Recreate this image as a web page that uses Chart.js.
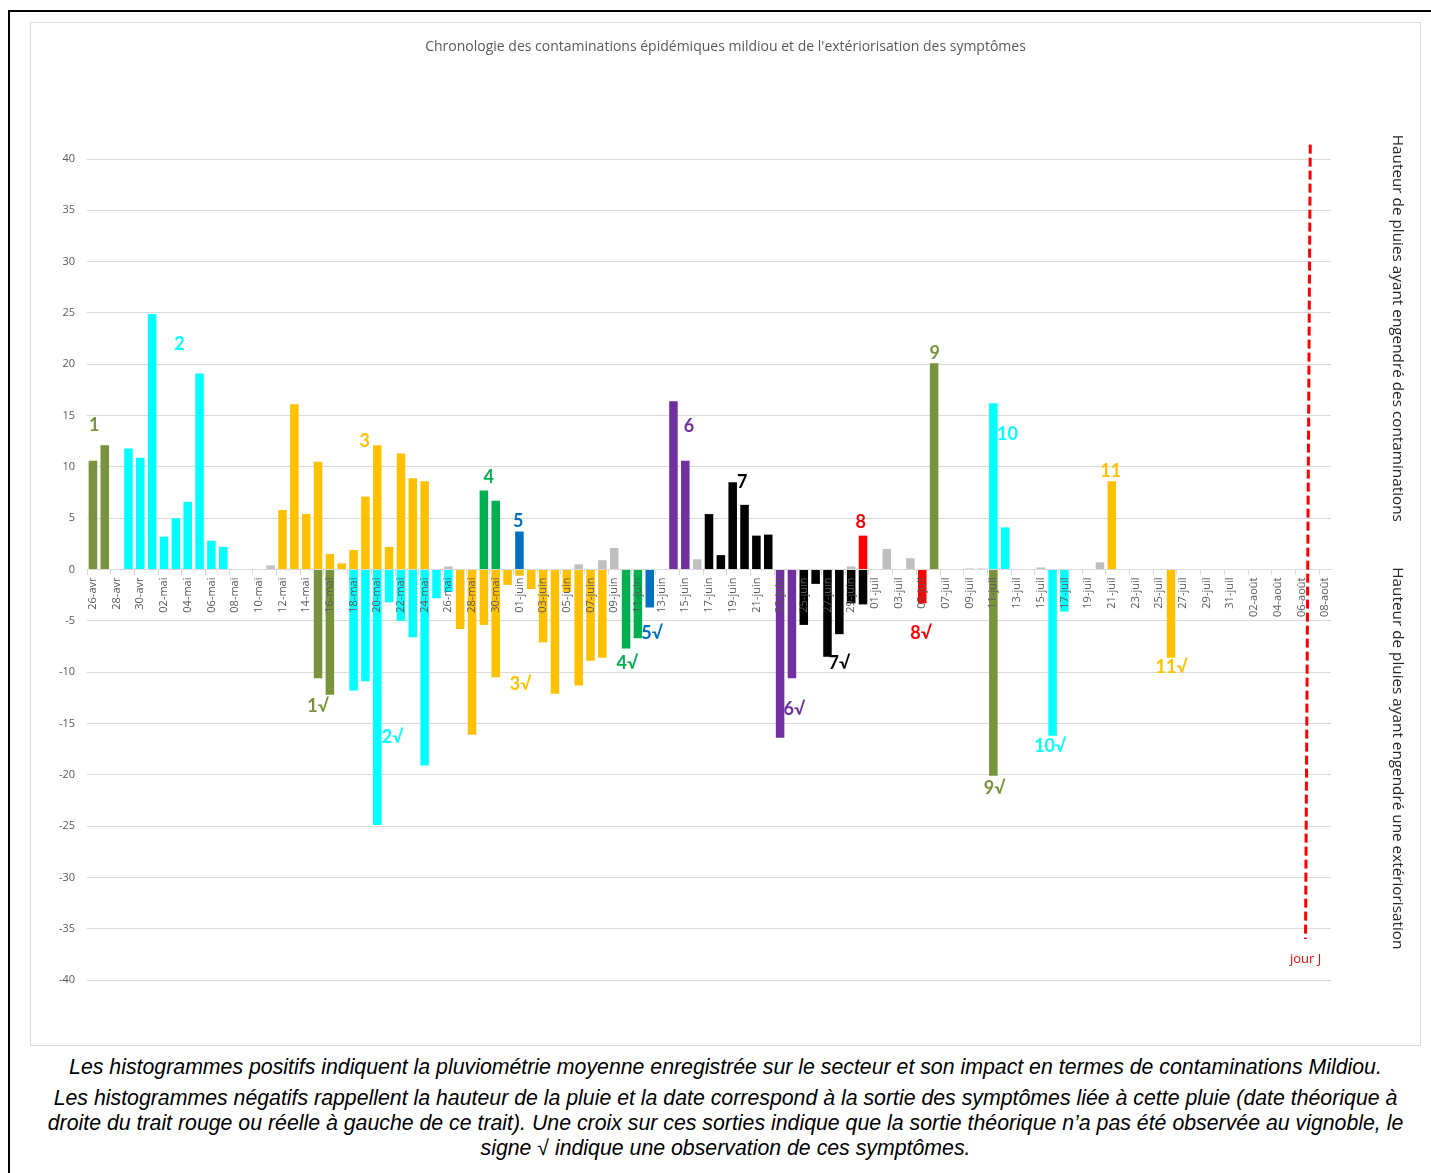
<!DOCTYPE html>
<html lang="fr">
<head>
<meta charset="utf-8">
<script src="https://cdn.jsdelivr.net/npm/chart.js@4.4.1/dist/chart.umd.min.js"></script>
<style>
  body { margin: 0; background: #fff; }
  #frame {
    position: absolute; left: 8px; top: 10px; width: 1430px; height: 1170px;
    border-left: 2px solid #000; border-top: 2px solid #000;
  }
  #chartBox {
    position: absolute; left: 30px; top: 22px; width: 1391px; height: 1024px;
    box-sizing: border-box; border: 1px solid #d9d9d9;
  }
  #caption {
    position: absolute; left: 30px; top: 1055px; width: 1391px;
    font-family: "Liberation Sans", Arial, sans-serif; font-style: italic;
    font-size: 21.3px; color: #000; text-align: center; line-height: 25px;
  }
  #caption p { margin: 0 0 6px 0; }
</style>
</head>
<body>
<div id="frame"></div>
<div id="chartBox"><canvas id="mildiou"></canvas></div>
<div id="caption">
  <p>Les histogrammes positifs indiquent la pluviométrie moyenne enregistrée sur le secteur et son impact en termes de contaminations Mildiou.</p>
  <p>Les histogrammes négatifs rappellent la hauteur de la pluie et la date correspond à la sortie des symptômes liée à cette pluie (date théorique à<br>droite du trait rouge ou réelle à gauche de ce trait). Une croix sur ces sorties indique que la sortie théorique n’a pas été observée au vignoble, le<br>signe √ indique une observation de ces symptômes.</p>
</div>
<script>
// jours du 26 avril au 8 août
let months = [['avr', 26, 30], ['mai', 1, 31], ['juin', 1, 30], ['juil', 1, 31], ['août', 1, 8]]
let dayLabels = []
months.forEach(m => {
  for (let d = m[1]; d <= m[2]; d++) dayLabels.push(String(d).padStart(2, '0') + '-' + m[0])
})

// pluie (mm) par jour, 0 = pas de pluie
let rain = [
  10.6, 12.1, 0, 11.8, 10.9, 24.9, 3.2, 5.0, 6.6, 19.1, 2.8, 2.2, 0, 0, 0,
  0.4, 5.8, 16.1, 5.4, 10.5, 1.5, 0.6, 1.9, 7.1, 12.1, 2.2, 11.3, 8.9, 8.6, 0,
  0.3, 0, 0, 7.7, 6.7, 0, 3.7, 0, 0, 0, 0, 0.5, 0, 0.9, 2.1,
  0, 0, 0, 0, 16.4, 10.6, 1.0, 5.4, 1.4, 8.5, 6.3, 3.3, 3.4, 0, 0,
  0, 0, 0, 0, 0.3, 3.3, 0, 2.0, 0, 1.1, 0, 20.1, 0, 0, 0.1,
  0.1, 16.2, 4.1, 0, 0, 0.2, 0, 0, 0, 0, 0.7, 8.6, 0, 0, 0,
  0, 0, 0, 0, 0, 0, 0, 0, 0, 0, 0, 0, 0, 0, 0
]
// contamination liee a la pluie (0 = pluie sans contamination)
let rainEpisode = [
  1, 1, 0, 2, 2, 2, 2, 2, 2, 2, 2, 2, 0, 0, 0,
  0, 3, 3, 3, 3, 3, 3, 3, 3, 3, 3, 3, 3, 3, 0,
  0, 0, 0, 4, 4, 0, 5, 0, 0, 0, 0, 0, 0, 0, 0,
  0, 0, 0, 0, 6, 6, 0, 7, 7, 7, 7, 7, 7, 0, 0,
  0, 0, 0, 0, 0, 8, 0, 0, 0, 0, 0, 9, 0, 0, 0,
  0, 10, 10, 0, 0, 0, 0, 0, 0, 0, 0, 11, 0, 0, 0,
  0, 0, 0, 0, 0, 0, 0, 0, 0, 0, 0, 0, 0, 0, 0
]
// sortie des symptomes (hauteur de pluie rappelee en negatif)
let symptoms = [
  0, 0, 0, 0, 0, 0, 0, 0, 0, 0, 0, 0, 0, 0, 0,
  0, 0, 0, 0, -10.6, -12.2, 0, -11.8, -10.9, -24.9, -3.2, -5.0, -6.6, -19.1, -2.8,
  -2.2, -5.8, -16.1, -5.4, -10.5, -1.5, -0.6, -1.9, -7.1, -12.1, -2.2, -11.3, -8.9, -8.6, 0,
  -7.7, -6.7, -3.7, 0, 0, 0, 0, 0, 0, 0, 0, 0, 0, -16.4, -10.6,
  -5.4, -1.4, -8.5, -6.3, -3.3, -3.4, 0, 0, 0, 0, -3.3, 0, 0, 0, 0,
  0, -20.1, 0, 0, 0, 0, -16.2, -4.1, 0, 0, 0, 0, 0, 0, 0,
  0, -8.6, 0, 0, 0, 0, 0, 0, 0, 0, 0, 0, 0, 0, 0
]
let symptomEpisode = [
  0, 0, 0, 0, 0, 0, 0, 0, 0, 0, 0, 0, 0, 0, 0,
  0, 0, 0, 0, 1, 1, 0, 2, 2, 2, 2, 2, 2, 2, 2,
  2, 3, 3, 3, 3, 3, 3, 3, 3, 3, 3, 3, 3, 3, 0,
  4, 4, 5, 0, 0, 0, 0, 0, 0, 0, 0, 0, 0, 6, 6,
  7, 7, 7, 7, 7, 7, 0, 0, 0, 0, 8, 0, 0, 0, 0,
  0, 9, 0, 0, 0, 0, 10, 10, 0, 0, 0, 0, 0, 0, 0,
  0, 11, 0, 0, 0, 0, 0, 0, 0, 0, 0, 0, 0, 0, 0
]
let yTicks = [-40, -35, -30, -25, -20, -15, -10, -5, 0, 5, 10, 15, 20, 25, 30, 35, 40]

// etiquettes des contaminations (jour, hauteur)
let episodeLabels = [
  { text: '1', day: 0.1, value: 14.1, ep: 1 },
  { text: '2', day: 7.3, value: 22.0, ep: 2 },
  { text: '3', day: 22.95, value: 12.5, ep: 3 },
  { text: '4', day: 33.4, value: 9.0, ep: 4 },
  { text: '5', day: 35.9, value: 4.7, ep: 5 },
  { text: '6', day: 50.3, value: 14.0, ep: 6 },
  { text: '7', day: 54.8, value: 8.5, ep: 7 },
  { text: '8', day: 64.8, value: 4.6, ep: 8 },
  { text: '9', day: 71.05, value: 21.1, ep: 9 },
  { text: '10', day: 77.2, value: 13.2, ep: 10 },
  { text: '11', day: 85.9, value: 9.6, ep: 11 },
  { text: '1√', day: 19.0, value: -13.3, ep: 1 },
  { text: '2√', day: 25.3, value: -16.3, ep: 2 },
  { text: '3√', day: 36.1, value: -11.2, ep: 3 },
  { text: '4√', day: 45.1, value: -9.1, ep: 4 },
  { text: '5√', day: 47.2, value: -6.2, ep: 5 },
  { text: '6√', day: 59.2, value: -13.6, ep: 6 },
  { text: '7√', day: 63.0, value: -9.1, ep: 7 },
  { text: '8√', day: 69.9, value: -6.2, ep: 8 },
  { text: '9√', day: 76.1, value: -21.3, ep: 9 },
  { text: '10√', day: 80.8, value: -17.2, ep: 10 },
  { text: '11√', day: 91.05, value: -9.5, ep: 11 }
]
let jourJ = { dayTop: 102.75, valueTop: 41.4, dayBottom: 102.35, valueBottom: -36 }

let episodeColors = ['#BFBFBF', '#77933C', '#00FFFF', '#FFC000', '#00B050', '#0070C0',
  '#7030A0', '#000000', '#FF0000', '#77933C', '#00FFFF', '#FFC000']

let decor = {
  id: 'decor',
  afterDraw(chart) {
    let { ctx, chartArea } = chart
    let x = chart.scales.x
    let y = chart.scales.y
    ctx.save()
    ctx.textAlign = 'center'
    ctx.textBaseline = 'middle'

    // titre, centre sur toute la largeur
    ctx.fillStyle = '#595959'
    ctx.font = '14px "Open Sans"'
    ctx.fillText("Chronologie des contaminations épidémiques mildiou et de l'extériorisation des symptômes", chart.width / 2, 24)

    ctx.font = 'bold 18px Lato'
    episodeLabels.forEach(l => {
      ctx.fillStyle = episodeColors[l.ep]
      ctx.fillText(l.text, x.getPixelForValue(l.day), y.getPixelForValue(l.value))
    })

    // trait rouge "jour J"
    ctx.strokeStyle = '#FF0000'
    ctx.lineWidth = 3
    ctx.setLineDash([9, 4])
    ctx.beginPath()
    ctx.moveTo(x.getPixelForValue(jourJ.dayTop), y.getPixelForValue(jourJ.valueTop))
    ctx.lineTo(x.getPixelForValue(jourJ.dayBottom), y.getPixelForValue(jourJ.valueBottom))
    ctx.stroke()
    ctx.setLineDash([])
    ctx.fillStyle = '#FF0000'
    ctx.font = '13px "Open Sans"'
    ctx.fillText('jour J', x.getPixelForValue(jourJ.dayBottom), y.getPixelForValue(-38))

    // textes lateraux
    ctx.fillStyle = '#262626'
    ctx.font = '15.3px "Open Sans"'
    let sx = chartArea.right + 66
    ;[['Hauteur de pluies ayant engendré des contaminations', 23.5],
      ['Hauteur de pluies ayant engendré une extériorisation', -18.4]].forEach(t => {
      ctx.save()
      ctx.translate(sx, y.getPixelForValue(t[1]))
      ctx.rotate(Math.PI / 2)
      ctx.fillText(t[0], 0, 0)
      ctx.restore()
    })
    ctx.restore()
  }
}

new Chart(document.querySelector('#mildiou'), {
  type: 'bar',
  plugins: [decor],
  data: {
    labels: dayLabels,
    datasets: [{
      label: 'Contaminations',
      data: rain,
      backgroundColor: rainEpisode.map(e => episodeColors[e]),
      grouped: false,
      barPercentage: 0.72,
      categoryPercentage: 1
    }, {
      label: 'Extériorisation',
      data: symptoms,
      backgroundColor: symptomEpisode.map(e => episodeColors[e]),
      grouped: false,
      barPercentage: 0.72,
      categoryPercentage: 1
    }]
  },
  options: {
    maintainAspectRatio: false,
    responsive: true,
    animation: false,
    layout: {
      padding: { left: 0, right: 89, top: 136, bottom: 65 }
    },
    scales: {
      x: {
        position: { y: 0 },
        offset: true,
        border: { display: true, color: '#d9d9d9' },
        grid: {
          offset: true,
          drawOnChartArea: false,
          drawTicks: true,
          tickLength: 5,
          color: ctx => ctx.index % 2 === 0 ? '#d9d9d9' : 'rgba(0,0,0,0)'
        },
        ticks: {
          z: 1,
          autoSkip: false,
          maxRotation: 90,
          minRotation: 90,
          padding: 3,
          color: '#595959',
          font: { family: 'Open Sans', size: 11 },
          callback: function (value, index) {
            return index % 2 === 0 ? dayLabels[index] : ''
          }
        }
      },
      y: {
        min: -40,
        max: 40,
        afterFit: s => { s.width = 56 },
        afterBuildTicks: s => { s.ticks = yTicks.map(v => ({ value: v })) },
        border: { display: false },
        grid: { color: '#d9d9d9', drawTicks: false },
        ticks: {
          padding: 12,
          color: '#595959',
          font: { family: 'Open Sans', size: 11 }
        }
      }
    },
    plugins: {
      legend: { display: false },
      tooltip: { enabled: false },
      title: { display: false }
    }
  }
})
</script>
</body>
</html>
